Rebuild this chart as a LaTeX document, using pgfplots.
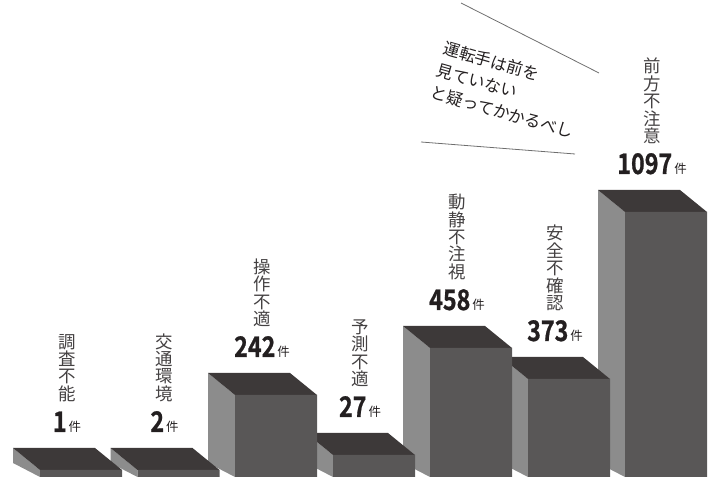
\documentclass[border=0pt]{standalone}
\usepackage{fontspec}
\setmainfont{Noto Sans CJK JP}
\newfontfamily\numfontface{Noto Sans CJK JP Bold}[FakeBold=0.8]
\usepackage{graphicx}
\usepackage{pgfplots}
\usepackage{pgfplotstable}
\pgfplotsset{compat=1.18}
\definecolor{frontgray}{HTML}{595757}
\definecolor{topgray}{HTML}{3D3939}
\definecolor{sidegray}{HTML}{8C8C8C}
\definecolor{ink}{HTML}{231F20}
\definecolor{rule}{HTML}{6E6E6E}

% x = centre of front face, h = drawn height of front face (the picture is not to scale)
\pgfplotstableread{
x     count h
81    1     7
178.5 2     7
276   242   82
374   27    22
471   458   129
569   373   98
666   1097  265
}\bars

\newcommand\numfont{\fontsize{28.5}{28.5}\numfontface}
\newcommand\kenfont{\fontsize{12.5}{12.5}\selectfont}

% #1 row, #2 label stacked one character per line
\newcommand\barlabel[2]{%
  \pgfplotstablegetelem{#1}{x}\of\bars \pgfmathsetmacro\lx{\pgfplotsretval-14}%
  \pgfplotstablegetelem{#1}{h}\of\bars \pgfmathsetmacro\ly{\pgfplotsretval+38}%
  \pgfmathsetmacro\ty{\ly+30}%
  \pgfplotstablegetelem{#1}{count}\of\bars \let\cnt\pgfplotsretval
  \edef\tmp{\noexpand\node[anchor=base,inner sep=0,text=ink] at (axis cs:\lx,\ly)
      {\noexpand\scalebox{0.82}[1]{\noexpand\numfont\cnt}\noexpand\hspace{2bp}{\noexpand\kenfont 件}};
    \noexpand\node[anchor=south,inner sep=0,align=center,text=ink!85,
      font=\noexpand\fontsize{17.5}{17.5}\noexpand\selectfont] at (axis cs:\lx,\ty) {\unexpanded{#2}};}%
  \tmp}

\begin{document}
\begin{tikzpicture}
\begin{axis}[
  width=720bp, height=480bp, scale only axis,
  xmin=0, xmax=720, ymin=-3, ymax=477,
  hide axis, clip=false,
]
\path (axis cs:0,-3) rectangle (axis cs:720,477);

% side faces
\pgfplotsinvokeforeach{0,...,6}{
  \pgfplotstablegetelem{#1}{x}\of\bars \pgfmathsetmacro\xa{\pgfplotsretval-41}
  \pgfplotstablegetelem{#1}{h}\of\bars \pgfmathsetmacro\hh{\pgfplotsretval}
  \pgfmathsetmacro\xb{\xa-27}
  \pgfmathsetmacro\hb{\hh+22}
  \edef\tmp{\noexpand\addplot[fill=sidegray,draw=none] coordinates {(\xa,0) (\xa,\hh) (\xb,\hb) (\xb,14)};}
  \tmp
}
% top faces
\pgfplotsinvokeforeach{0,...,6}{
  \pgfplotstablegetelem{#1}{x}\of\bars \pgfmathsetmacro\xa{\pgfplotsretval-41}
  \pgfplotstablegetelem{#1}{h}\of\bars \pgfmathsetmacro\hh{\pgfplotsretval}
  \pgfmathsetmacro\xb{\xa-27}
  \pgfmathsetmacro\xc{\xa+82}
  \pgfmathsetmacro\xd{\xc-27}
  \pgfmathsetmacro\hb{\hh+22}
  \edef\tmp{\noexpand\addplot[fill=topgray,draw=none] coordinates {(\xa,\hh) (\xc,\hh) (\xd,\hb) (\xb,\hb)};}
  \tmp
}
% front faces
\addplot[ybar, bar width=82, bar shift=0, fill=frontgray, draw=none] table[x=x, y=h]{\bars};

\barlabel{0}{調\\査\\不\\能}
\barlabel{1}{交\\通\\環\\境}
\barlabel{2}{操\\作\\不\\適}
\barlabel{3}{予\\測\\不\\適}
\barlabel{4}{動\\静\\不\\注\\視}
\barlabel{5}{安\\全\\不\\確\\認}
\barlabel{6}{前\\方\\不\\注\\意}

% annotation
\addplot[rule, line width=0.8bp] coordinates {(461,474) (599,404)};
\addplot[rule, line width=0.8bp] coordinates {(421,335) (575,323)};
\node[rotate=-16, anchor=north west, inner sep=0, align=left, text=ink,
  font=\fontsize{16.5}{23}\selectfont] at (axis cs:446,437)
  {運転手は前を\\見ていない\\と疑ってかかるべし};
\end{axis}
\end{tikzpicture}
\end{document}
